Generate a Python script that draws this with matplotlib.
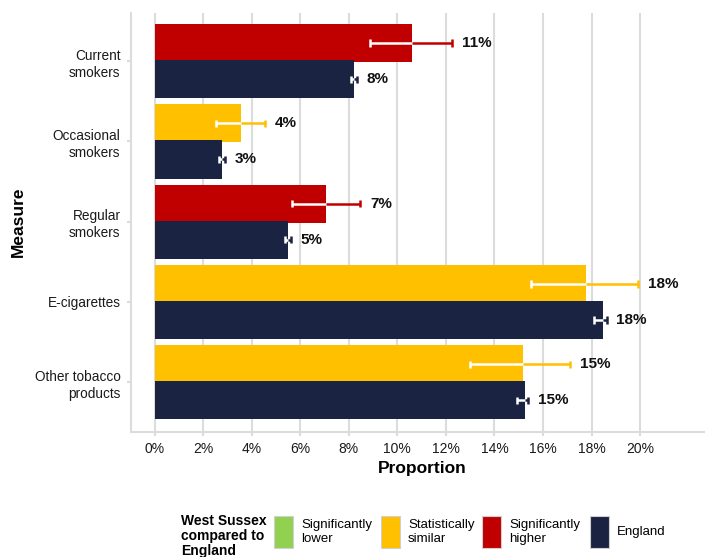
import matplotlib.pyplot as plt
from matplotlib.patches import Rectangle

plt.rcParams["font.family"] = ["Liberation Sans", "DejaVu Sans"]

# ---------------------------------------------------------------- data
measures = ["Current\nsmokers", "Occasional\nsmokers", "Regular\nsmokers",
            "E-cigarettes", "Other tobacco\nproducts"]

ws_value = [10.6, 3.57, 7.08, 17.76, 15.16]
ws_lower = [8.88, 2.55, 5.65, 15.5, 13.0]
ws_upper = [12.25, 4.54, 8.48, 19.92, 17.12]
ws_compared = ["higher", "similar", "higher", "similar", "similar"]

eng_value = [8.2, 2.79, 5.48, 18.45, 15.25]
eng_lower = [8.08, 2.65, 5.36, 18.1, 14.91]
eng_upper = [8.32, 2.9, 5.6, 18.62, 15.4]

legend_keys = ["lower", "similar", "higher", "england"]
legend_labels = ["Significantly\nlower", "Statistically\nsimilar",
                 "Significantly\nhigher", "England"]

colours = {"lower": "#92D050", "similar": "#FFC000",
           "higher": "#C00000", "england": "#1B2343"}
GRID = "#DCDCDC"

# ---------------------------------------------------------------- figure
fig = plt.figure(figsize=(7.05, 5.57), dpi=100)
W, H = 705, 557
# axes box in pixels: left 131, right 713 (runs past the crop), top 13, bottom 432
ax = fig.add_axes([131 / W, (H - 432) / H, 582 / W, 419 / H])

bar_h = 0.475
offset = 0.225
cap = 0.045


def draw_bar(y, val, lo, hi, colour):
    ax.barh(y, val, height=bar_h, color=colour, zorder=2)
    # CI: white where it sits on the bar, bar colour where it sticks out
    ax.hlines(y, lo, min(hi, val), color="white", lw=1.8, zorder=3)
    if hi > val:
        ax.hlines(y, val, hi, color=colour, lw=1.8, zorder=3)
    ax.vlines(lo, y - cap, y + cap, color="white" if lo < val else colour,
              lw=1.8, zorder=3)
    ax.vlines(hi, y - cap, y + cap, color="white" if hi < val else colour,
              lw=1.8, zorder=3)
    ax.annotate(f"{round(val)}%", xy=(hi, y), xytext=(7, 0),
                textcoords="offset points", ha="left", va="center",
                fontsize=11, fontweight="bold", color="#111111", zorder=4)


for i in range(len(measures)):
    draw_bar(i - offset, ws_value[i], ws_lower[i], ws_upper[i],
             colours[ws_compared[i]])
    draw_bar(i + offset, eng_value[i], eng_lower[i], eng_upper[i],
             colours["england"])

ax.set_xlim(-0.97, 23.0)
ax.set_ylim(4.62, -0.6)

ax.set_xticks(range(0, 21, 2))
ax.set_xticklabels([f"{t}%" for t in range(0, 21, 2)])
ax.set_yticks(range(len(measures)))
ax.set_yticklabels(measures, ha="right", linespacing=1.3)

ax.grid(axis="x", color=GRID, lw=1.5, zorder=0)
ax.set_axisbelow(True)
for side in ["top", "right"]:
    ax.spines[side].set_visible(False)
for side in ["left", "bottom"]:
    ax.spines[side].set_color(GRID)
    ax.spines[side].set_linewidth(1.5)

ax.tick_params(axis="x", colors=GRID, labelcolor="#1a1a1a", labelsize=10,
               length=3, width=1.5, pad=4)
ax.tick_params(axis="y", colors=GRID, labelcolor="#1a1a1a", labelsize=9.8,
               length=3, width=1.5, pad=4.5)

fig.text(422 / W, 1 - 468 / H, "Proportion", ha="center", va="center",
         fontsize=12.5, fontweight="bold")
fig.text(18 / W, 1 - 222 / H, "Measure", ha="center", va="center",
         rotation=90, fontsize=12.5, fontweight="bold")

# ---------------------------------------------------------------- legend
fig.text(181 / W, 1 - 514 / H, "West Sussex\ncompared to\nEngland",
         ha="left", va="top", fontsize=10, fontweight="bold", linespacing=1.1)
patch_x = [274, 381, 482, 590]
for key, label, px in zip(legend_keys, legend_labels, patch_x):
    fig.patches.append(Rectangle((px / W, 1 - 548 / H), 19 / W, 32 / H,
                                 transform=fig.transFigure,
                                 facecolor=colours[key], edgecolor="#D0D0D0",
                                 lw=0.8))
    fig.text((px + 27) / W, 1 - 532 / H, label, ha="left", va="center",
             fontsize=9.5, linespacing=1.15)

fig.savefig("out.png", dpi=100)
